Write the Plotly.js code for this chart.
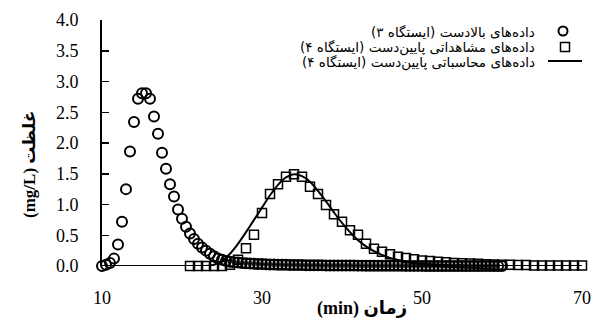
<!DOCTYPE html>
<html>
<head>
<meta charset="utf-8">
<script src="https://cdn.plot.ly/plotly-3.0.1.min.js"></script>
<style>html,body{margin:0;padding:0;background:#fff;}#chart{width:593px;height:320px;}</style>
</head>
<body>
<div id="chart"></div>
<script>
// Upstream data (station 3) – time (min), concentration (mg/L)
var upT = [10,10.5,11,11.5,12,12.5,13,13.5,14,14.5,15,15.5,16,16.5,17,17.5,18,18.5,19,19.5,20,20.5,21,21.5,22,22.5,23,23.5,24,24.5,25,25.5,26,26.5,27,27.5,28,28.5,29,29.5,30,30.5,31,31.5,32,32.5,33,33.5,34,34.5,35,35.5,36,36.5,37,37.5,38,38.5,39,39.5,40,40.5,41,41.5,42,42.5,43,43.5,44,44.5,45,45.5,46,46.5,47,47.5,48,48.5,49,49.5,50,50.5,51,51.5,52,52.5,53,53.5,54,54.5,55,55.5,56,56.5,57,57.5,58,58.5,59,59.5,60];
var upC = [0.00,0.02,0.05,0.12,0.35,0.72,1.25,1.86,2.34,2.72,2.81,2.81,2.72,2.43,2.15,1.84,1.58,1.33,1.13,0.92,0.77,0.64,0.53,0.44,0.36,0.30,0.25,0.20,0.16,0.12,0.10,0.08,0.07,0.06,0.055,0.05,0.045,0.04,0.037,0.034,0.031,0.028,0.026,0.024,0.022,0.020,0.019,0.018,0.017,0.016,0.015,0.014,0.013,0.012,0.011,0.011,0.010,0.010,0.009,0.009,0.008,0.008,0.007,0.007,0.006,0.006,0.005,0.005,0.005,0.004,0.004,0.004,0.003,0.003,0.003,0.003,0.002,0.002,0.002,0.002,0.002,0.001,0.001,0.001,0.001,0.001,0.001,0.001,0.001,0.001,0.001,0.001,0.001,0.000,0.000,0.000,0.000,0.000,0.000,0.000,0.000];

// Observed downstream data (station 4)
var obsT = [21,22,23,24,25,26,27,28,29,30,31,32,33,34,35,36,37,38,39,40,41,42,43,44,45,46,47,48,49,50,51,52,53,54,55,56,57,58,59,60,61,62,63,64,65,66,67,68,69,70];
var obsC = [0.00,0.00,0.00,0.00,0.00,0.02,0.10,0.29,0.51,0.86,1.17,1.33,1.45,1.49,1.45,1.29,1.17,0.99,0.84,0.72,0.58,0.51,0.36,0.28,0.23,0.19,0.15,0.13,0.11,0.09,0.08,0.07,0.06,0.05,0.045,0.04,0.035,0.03,0.025,0.02,0.02,0.015,0.015,0.01,0.01,0.01,0.01,0.01,0.01,0.01];

// Computed downstream data (station 4)
var calT = [10,11,12,13,14,15,16,17,18,19,20,21,22,23,24,25,26,27,28,29,30,31,32,33,34,35,36,37,38,39,40,41,42,43,44,45,46,47,48,49,50,51,52,53,54,55,56,57,58,59,60,61,62,63,64,65,66,67,68,69,70];
var calC = [0,0,0,0,0,0,0,0,0,0,0,0,0,0,0.02,0.08,0.20,0.36,0.55,0.75,0.95,1.15,1.32,1.44,1.49,1.46,1.37,1.22,1.05,0.87,0.70,0.55,0.42,0.32,0.24,0.18,0.13,0.10,0.07,0.05,0.04,0.03,0.02,0.015,0.01,0.01,0,0,0,0,0,0,0,0,0,0,0,0,0,0,0];

var xTicks = [10,30,50,70];
var yTicks = [0,0.5,1,1.5,2,2.5,3,3.5,4];
var legendNames = [
  "\u202Bداده\u200Cهای بالادست (ایستگاه ۳)\u202C",
  "\u202Bداده\u200Cهای مشاهداتی پایین\u200Cدست (ایستگاه ۴)\u202C",
  "\u202Bداده\u200Cهای محاسباتی پایین\u200Cدست (ایستگاه ۴)\u202C"
];
var xTitle = "(min) زمان";
var yTitle = "(mg/L) غلظت";

var FONT = "Liberation Serif, 'Times New Roman', DejaVu Sans, serif";
var LFONT = "DejaVu Sans, Noto Sans, sans-serif";

var traces = [
  {x: upT, y: upC, type: 'scatter', mode: 'markers', name: legendNames[0], cliponaxis: false,
   marker: {symbol: 'circle-open', size: 10, color: '#000', line: {width: 2, color: '#000'}}},
  {x: obsT, y: obsC, type: 'scatter', mode: 'markers', name: legendNames[1], cliponaxis: false,
   marker: {symbol: 'square-open', size: 9, color: '#000', line: {width: 1.5, color: '#000'}}},
  {x: calT, y: calC, type: 'scatter', mode: 'lines', name: legendNames[2], cliponaxis: false,
   line: {color: '#000', width: 2, shape: 'spline', smoothing: 0.6}}
];

function px(x){ return (x - 102) / 480; }
function py(y){ return (266 - y) / 246; }

var layout = {
  width: 593, height: 320,
  margin: {l: 102, r: 11, t: 20, b: 54},
  paper_bgcolor: '#fff', plot_bgcolor: '#fff',
  showlegend: false,
  font: {family: FONT, size: 18, color: '#000'},
  xaxis: {
    range: [10, 70], tickvals: xTicks, ticktext: xTicks.map(String),
    showgrid: false, zeroline: false, showline: false,
    ticks: 'outside', ticklen: 0, ticklabelstandoff: 15,
    tickfont: {family: FONT, size: 18, color: '#000'}
  },
  yaxis: {
    range: [0, 4], tickvals: yTicks, ticktext: yTicks.map(function(v){return v.toFixed(1);}),
    showgrid: false, zeroline: false, showline: true, linecolor: '#000', linewidth: 2,
    ticks: 'inside', ticklen: 7, tickwidth: 1.5, tickcolor: '#000', ticklabelstandoff: 18,
    tickfont: {family: FONT, size: 18, color: '#000'}
  },
  annotations: [
    {xref: 'paper', yref: 'paper', x: px(362), y: py(308), text: '<b>' + xTitle + '</b>', showarrow: false,
     xanchor: 'center', yanchor: 'middle', font: {family: FONT, size: 18, color: '#000'}},
    {xref: 'paper', yref: 'paper', x: px(30), y: py(165), text: '<b>' + yTitle + '</b>', showarrow: false,
     textangle: -90, xanchor: 'center', yanchor: 'middle', font: {family: FONT, size: 17, color: '#000'}},
    {xref: 'paper', yref: 'paper', x: px(537), y: py(32), text: legendNames[0], showarrow: false,
     xanchor: 'right', yanchor: 'middle', font: {family: LFONT, size: 13.5, color: '#000'}},
    {xref: 'paper', yref: 'paper', x: px(537), y: py(47), text: legendNames[1], showarrow: false,
     xanchor: 'right', yanchor: 'middle', font: {family: LFONT, size: 13.5, color: '#000'}},
    {xref: 'paper', yref: 'paper', x: px(537), y: py(62), text: legendNames[2], showarrow: false,
     xanchor: 'right', yanchor: 'middle', font: {family: LFONT, size: 13.5, color: '#000'}}
  ],
  shapes: [
    {type: 'circle', xref: 'paper', yref: 'paper', x0: px(558.5), x1: px(567.5), y0: py(35.5), y1: py(26.5),
     line: {color: '#000', width: 2}},
    {type: 'rect', xref: 'paper', yref: 'paper', x0: px(560.5), x1: px(569.5), y0: py(51.5), y1: py(42.5),
     line: {color: '#000', width: 1.5}},
    {type: 'line', xref: 'paper', yref: 'paper', x0: px(548), x1: px(582), y0: py(61), y1: py(61),
     line: {color: '#000', width: 2}}
  ]
};

Plotly.newPlot('chart', traces, layout, {displayModeBar: false, staticPlot: true});
</script>
</body>
</html>
